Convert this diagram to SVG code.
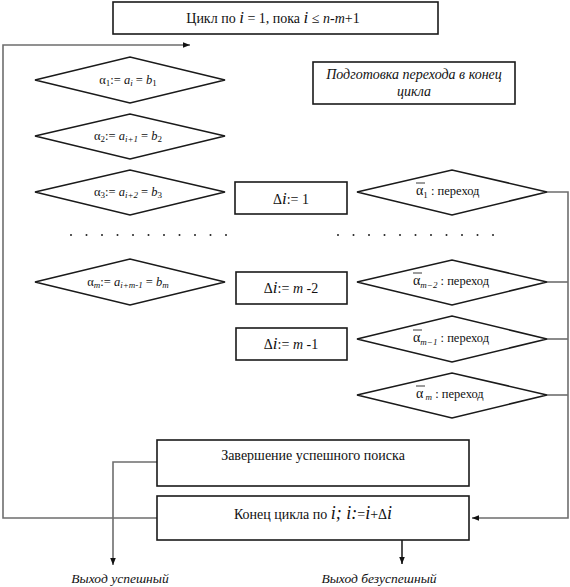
<svg xmlns="http://www.w3.org/2000/svg" width="570" height="587" viewBox="0 0 570 587" font-family="'Liberation Serif', 'Times New Roman', serif">
<style>
.box{fill:#fff;stroke:#1a1a1a;stroke-width:1.6}
.dia{fill:#fff;stroke:#1a1a1a;stroke-width:1.6}
.con{fill:none;stroke:#6e6e6e;stroke-width:1.6}
.arr{fill:none;stroke:#222;stroke-width:1.6}
.ol{stroke:#222;stroke-width:0.9}
text{font-family:'Liberation Serif','Times New Roman',serif;fill:#111}
.t14{font-size:14px}
.t12{font-size:12.5px}
.it{font-style:italic}
.sub{font-size:9px}
.dot{fill:#222}
</style>
<defs>
<marker id="ah" viewBox="0 0 10 10" refX="10" refY="5" markerWidth="7" markerHeight="7" markerUnits="userSpaceOnUse" orient="auto">
<path d="M0,1 L10,5 L0,9 z" fill="#111"/>
</marker>
</defs>

<g id="connectors">
<polyline class="con" points="157,518 3,518 3,45 190,45" marker-end="url(#ah)"/>
<polyline class="con" points="547,192 568,192 568,518 472,518" marker-end="url(#ah)"/>
<line class="con" x1="547" y1="282" x2="568" y2="282"/>
<line class="con" x1="547" y1="339" x2="568" y2="339"/>
<line class="con" x1="547" y1="395" x2="568" y2="395"/>
<polyline class="con" points="157,462 113,462 113,565" marker-end="url(#ah)"/>
<line class="arr" x1="402" y1="540" x2="402" y2="564" marker-end="url(#ah)"/>
</g>

<g id="top">
<rect class="box" x="113" y="2" width="325" height="32"/>
<text class="t14" x="273" y="23" text-anchor="middle">Цикл по <tspan class="it" font-size="17">i</tspan> = 1, пока <tspan class="it" font-size="17">i</tspan> ≤  <tspan class="it">n</tspan>-<tspan class="it">m</tspan>+1</text>
</g>

<g id="prep">
<rect class="box" x="313" y="62" width="202" height="42"/>
<text class="t14 it" x="414" y="79" text-anchor="middle">Подготовка перехода в конец</text>
<text class="t14 it" x="414" y="96" text-anchor="middle">цикла</text>
</g>

<g id="a1">
<polygon class="dia" points="35,80 130,57 225,80 130,103"/>
<text class="t12" x="128" y="84" text-anchor="middle" fill="#333">α<tspan class="sub" dy="2">1</tspan><tspan dy="-2">:=  </tspan><tspan class="it">a</tspan><tspan class="sub it" dy="2">i</tspan><tspan dy="-2"> = </tspan><tspan class="it">b</tspan><tspan class="sub" dy="2">1</tspan></text>
</g>
<g id="a2">
<polygon class="dia" points="35,136 130,114 225,136 130,159"/>
<text class="t12" x="128" y="140" text-anchor="middle">α<tspan class="sub" dy="2">2</tspan><tspan dy="-2">:= </tspan><tspan class="it">a</tspan><tspan class="sub it" dy="2">i+1</tspan><tspan dy="-2"> = </tspan><tspan class="it">b</tspan><tspan class="sub" dy="2">2</tspan></text>
</g>
<g id="a3">
<polygon class="dia" points="35,192 130,170 225,192 130,215"/>
<text class="t12" x="128" y="196" text-anchor="middle">α<tspan class="sub" dy="2">3</tspan><tspan dy="-2">:= </tspan><tspan class="it">a</tspan><tspan class="sub it" dy="2">i+2</tspan><tspan dy="-2"> = </tspan><tspan class="it">b</tspan><tspan class="sub" dy="2">3</tspan></text>
</g>
<g id="am">
<polygon class="dia" points="35,282 130,259 225,282 130,305"/>
<text class="t12" x="128" y="286" text-anchor="middle">α<tspan class="sub it" dy="2">m</tspan><tspan dy="-2">:=  </tspan><tspan class="it">a</tspan><tspan class="sub it" dy="2">i+m-1</tspan><tspan dy="-2"> = </tspan><tspan class="it">b</tspan><tspan class="sub it" dy="2">m</tspan></text>
</g>

<g id="dots">
<circle class="dot" cx="71" cy="235" r="1"/><circle class="dot" cx="86.5" cy="235" r="1"/><circle class="dot" cx="102" cy="235" r="1"/><circle class="dot" cx="117.5" cy="235" r="1"/><circle class="dot" cx="133" cy="235" r="1"/><circle class="dot" cx="148.5" cy="235" r="1"/><circle class="dot" cx="164" cy="235" r="1"/><circle class="dot" cx="179.5" cy="235" r="1"/><circle class="dot" cx="195" cy="235" r="1"/><circle class="dot" cx="210.5" cy="235" r="1"/><circle class="dot" cx="226" cy="235" r="1"/>
<circle class="dot" cx="338" cy="235" r="1"/><circle class="dot" cx="353.5" cy="235" r="1"/><circle class="dot" cx="369" cy="235" r="1"/><circle class="dot" cx="384.5" cy="235" r="1"/><circle class="dot" cx="400" cy="235" r="1"/><circle class="dot" cx="415.5" cy="235" r="1"/><circle class="dot" cx="431" cy="235" r="1"/><circle class="dot" cx="446.5" cy="235" r="1"/><circle class="dot" cx="462" cy="235" r="1"/><circle class="dot" cx="477.5" cy="235" r="1"/><circle class="dot" cx="493" cy="235" r="1"/>
</g>

<g id="d1">
<rect class="box" x="235" y="182" width="112" height="32"/>
<text class="t14" x="291" y="204" text-anchor="middle">Δ<tspan class="it" font-size="17">i</tspan>:= 1</text>
</g>
<g id="dm2">
<rect class="box" x="236" y="272" width="111" height="32"/>
<text class="t14" x="291" y="293" text-anchor="middle">Δ<tspan class="it" font-size="17">i</tspan>:= <tspan class="it">m</tspan> -2</text>
</g>
<g id="dm1">
<rect class="box" x="236" y="328" width="111" height="32"/>
<text class="t14" x="291" y="349" text-anchor="middle">Δ<tspan class="it" font-size="17">i</tspan>:= <tspan class="it">m</tspan> -1</text>
</g>

<g id="n1">
<polygon class="dia" points="357,192 452,170 547,192 452,215"/>
<line class="ol" x1="416" y1="183" x2="425" y2="183"/>
<text class="t12" x="416" y="195"><tspan font-size="14">α</tspan><tspan class="sub" dy="3">1</tspan><tspan dy="-3">  : переход</tspan></text>
</g>
<g id="nm2">
<polygon class="dia" points="357,282 452,260 547,282 452,305"/>
<line class="ol" x1="413" y1="273" x2="422" y2="273"/>
<text class="t12" x="413" y="285"><tspan font-size="14">α</tspan><tspan class="sub it" dy="3">m−2</tspan><tspan dy="-3">  : переход</tspan></text>
</g>
<g id="nm1">
<polygon class="dia" points="357,339 452,316 547,339 452,362"/>
<line class="ol" x1="413" y1="330" x2="422" y2="330"/>
<text class="t12" x="413" y="342"><tspan font-size="14">α</tspan><tspan class="sub it" dy="3">m−1</tspan><tspan dy="-3">  : переход</tspan></text>
</g>
<g id="nm">
<polygon class="dia" points="357,395 452,373 547,395 452,418"/>
<line class="ol" x1="416" y1="386" x2="425" y2="386"/>
<text class="t12" x="416" y="398"><tspan font-size="14">α</tspan><tspan class="sub it" dy="2"> m</tspan><tspan dy="-2"> : переход</tspan></text>
</g>

<g id="success">
<rect class="box" x="157" y="440" width="312" height="46"/>
<text class="t14" x="313" y="460" text-anchor="middle">Завершение успешного поиска</text>
</g>
<g id="end">
<rect class="box" x="157" y="496" width="312" height="44"/>
<text class="t14" x="313" y="519" text-anchor="middle">Конец цикла по <tspan class="it" font-size="18">i; i:</tspan>=<tspan class="it" font-size="18">i</tspan>+Δ<tspan class="it" font-size="18">i</tspan></text>
</g>

<g id="labels">
<text class="it" x="120" y="583" text-anchor="middle" font-size="13.5">Выход успешный</text>
<text class="it" x="379" y="583" text-anchor="middle" font-size="13.5">Выход безуспешный</text>
</g>
</svg>
